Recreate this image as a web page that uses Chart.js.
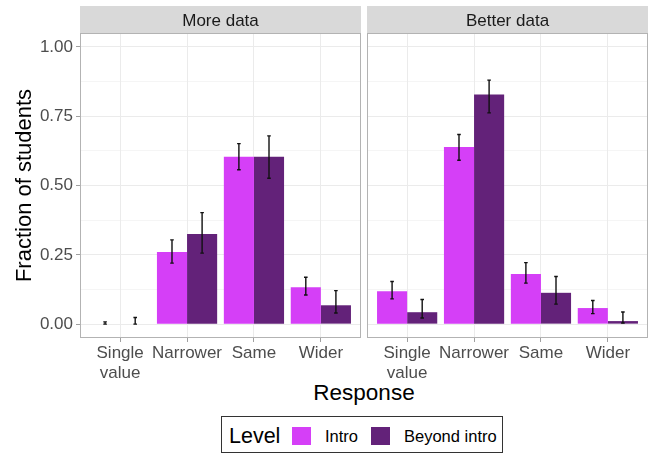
<!DOCTYPE html>
<html>
<head>
<meta charset="utf-8">
<script src="https://cdn.jsdelivr.net/npm/chart.js@4/dist/chart.umd.min.js"></script>
<style>
  html, body { margin: 0; padding: 0; background: #fff; }
  body { width: 651px; height: 454px; position: relative; overflow: hidden; font-family: "Liberation Sans", Arial, sans-serif; }
  .panel { position: absolute; top: 0; height: 380px; }
  #xtitle { position: absolute; left: 0; width: 728px; top: 382px; text-align: center; font-size: 22.5px; line-height: 22px; color: #000; }
  #legend { position: absolute; left: 221px; top: 416px; width: 280px; height: 35px; border: 1px solid #333; box-sizing: content-box; }
  #legend .lt { position: absolute; left: 7px; top: 8px; font-size: 21.5px; line-height: 22px; color: #000; }
  #legend .sw { position: absolute; top: 10px; width: 19px; height: 18px; }
  #legend .lab { position: absolute; top: 10px; font-size: 16.5px; line-height: 18px; color: #000; }
</style>
</head>
<body>
<div class="panel" style="left:0;width:362px;"><canvas id="c1" width="362" height="380"></canvas></div>
<div class="panel" style="left:362px;width:289px;"><canvas id="c2" width="289" height="380"></canvas></div>
<div id="xtitle">Response</div>
<div id="legend">
  <span class="lt">Level</span>
  <span class="sw" style="left:70px;background:#D53FF7"></span>
  <span class="lab" style="left:103px">Intro</span>
  <span class="sw" style="left:149px;background:#632279"></span>
  <span class="lab" style="left:182px">Beyond intro</span>
</div>
<script>
// ---- data ----
const categories = [["Single", "value"], "Narrower", "Same", "Wider"];
const facets = ["More data", "Better data"];
const seriesNames = ["Intro", "Beyond intro"];

// More data
const moreIntro      = [0.000, 0.260, 0.604, 0.133];
const moreIntroLo    = [0.000, 0.220, 0.557, 0.105];
const moreIntroHi    = [0.008, 0.304, 0.651, 0.169];
const moreBeyond     = [0.000, 0.325, 0.604, 0.068];
const moreBeyondLo   = [0.000, 0.256, 0.526, 0.040];
const moreBeyondHi   = [0.024, 0.402, 0.679, 0.121];

// Better data
const betterIntro    = [0.119, 0.639, 0.181, 0.058];
const betterIntroLo  = [0.091, 0.591, 0.148, 0.038];
const betterIntroHi  = [0.154, 0.684, 0.222, 0.085];
const betterBeyond   = [0.043, 0.828, 0.113, 0.011];
const betterBeyondLo = [0.022, 0.762, 0.072, 0.004];
const betterBeyondHi = [0.089, 0.880, 0.172, 0.044];

const yMajorTicks = [0, 0.25, 0.5, 0.75, 1];
const yTickLabels = ["0.00", "0.25", "0.50", "0.75", "1.00"];
const yMinorTicks = [0.125, 0.375, 0.625, 0.875];

const colors = ["#D53FF7", "#632279"];
const FONT = '"Liberation Sans", Arial, sans-serif';

function toXY(arr) { return arr.map((v, i) => ({ x: i + 1, y: v })); }

const errorBarPlugin = {
  id: 'errorBars',
  afterDatasetsDraw(chart) {
    const ctx = chart.ctx, ys = chart.scales.y;
    chart.data.datasets.forEach((ds, di) => {
      const meta = chart.getDatasetMeta(di);
      meta.data.forEach((el, i) => {
        const x = el.x;
        const yl = ys.getPixelForValue(ds.lo[i]);
        const yh = ys.getPixelForValue(ds.hi[i]);
        ctx.save();
        ctx.strokeStyle = '#111';
        ctx.lineWidth = 1.4;
        ctx.beginPath();
        ctx.moveTo(x, yl); ctx.lineTo(x, yh);
        ctx.moveTo(x - 1.8, yl); ctx.lineTo(x + 1.8, yl);
        ctx.moveTo(x - 1.8, yh); ctx.lineTo(x + 1.8, yh);
        ctx.stroke();
        ctx.restore();
      });
    });
  }
};

const panelPlugin = {
  id: 'panelDeco',
  beforeDraw(chart, args, opts) {
    const a = chart.chartArea, ctx = chart.ctx;
    ctx.save();
    ctx.fillStyle = '#D9D9D9';
    ctx.fillRect(a.left, 6, a.right - a.left, a.top - 6);
    ctx.fillStyle = '#1A1A1A';
    ctx.font = '17px ' + FONT;
    ctx.textAlign = 'center';
    ctx.textBaseline = 'alphabetic';
    ctx.fillText(opts.label, (a.left + a.right) / 2, 26);
    ctx.restore();
  },
  afterDraw(chart) {
    const a = chart.chartArea, ctx = chart.ctx;
    ctx.save();
    ctx.strokeStyle = '#B3B3B3';
    ctx.lineWidth = 1;
    ctx.strokeRect(a.left + 0.5, a.top + 0.5, a.right - a.left - 1, a.bottom - a.top - 1);
    ctx.restore();
  }
};

function makeChart(id, label, d1, lo1, hi1, d2, lo2, hi2, showY, padL, padR) {
  const allY = yMajorTicks.concat(yMinorTicks).sort((a, b) => a - b);
  return new Chart(document.getElementById(id), {
    type: 'bar',
    data: {
      datasets: [
        { label: seriesNames[0], data: toXY(d1), lo: lo1, hi: hi1, backgroundColor: colors[0], borderWidth: 0 },
        { label: seriesNames[1], data: toXY(d2), lo: lo2, hi: hi2, backgroundColor: colors[1], borderWidth: 0 }
      ]
    },
    options: {
      responsive: false,
      animation: false,
      layout: { padding: { top: 33, left: padL, right: padR, bottom: 0 } },
      datasets: { bar: { categoryPercentage: 0.9, barPercentage: 1.0, grouped: true } },
      plugins: { legend: { display: false }, tooltip: { enabled: false }, panelDeco: { label: label } },
      scales: {
        x: {
          type: 'linear', min: 0.4, max: 4.6, offset: false,
          afterBuildTicks(s) { s.ticks = categories.map((c, i) => ({ value: i + 1 })); },
          afterFit(s) { s.height = 42; },
          border: { display: false },
          grid: { offset: false, color: '#EBEBEB', lineWidth: 1, tickLength: 4, tickColor: '#A0A0A0', drawTicks: true },
          ticks: {
            autoSkip: false, maxRotation: 0, padding: 2, color: '#4D4D4D',
            font: { family: FONT, size: 17, lineHeight: 1.15 },
            callback(v) { return categories[Math.round(v) - 1]; }
          }
        },
        y: {
          min: -0.05, max: 1.05,
          afterBuildTicks(s) { s.ticks = allY.map(v => ({ value: v })); },
          afterFit(s) { s.width = showY ? 80 : 0; },
          border: { display: false },
          grid: {
            color: '#EBEBEB',
            lineWidth: ctx => (ctx.tick && yMinorTicks.includes(ctx.tick.value)) ? 0.5 : 1,
            tickColor: ctx => (ctx.tick && yMinorTicks.includes(ctx.tick.value)) ? 'rgba(0,0,0,0)' : '#A0A0A0',
            tickLength: 4, drawTicks: showY
          },
          ticks: {
            display: showY, padding: 3, color: '#4D4D4D', autoSkip: false,
            font: { family: FONT, size: 17 },
            callback(v) { const k = yMajorTicks.indexOf(v); return k >= 0 ? yTickLabels[k] : ''; }
          },
          title: {
            display: showY, text: 'Fraction of students', color: '#000',
            font: { family: FONT, size: 22 },
            padding: { top: 12, bottom: 0 }
          }
        }
      }
    },
    plugins: [panelPlugin, errorBarPlugin]
  });
}

makeChart('c1', facets[0], moreIntro, moreIntroLo, moreIntroHi, moreBeyond, moreBeyondLo, moreBeyondHi, true, 0, 1);
makeChart('c2', facets[1], betterIntro, betterIntroLo, betterIntroHi, betterBeyond, betterBeyondLo, betterBeyondHi, false, 5, 3);
</script>
</body>
</html>
